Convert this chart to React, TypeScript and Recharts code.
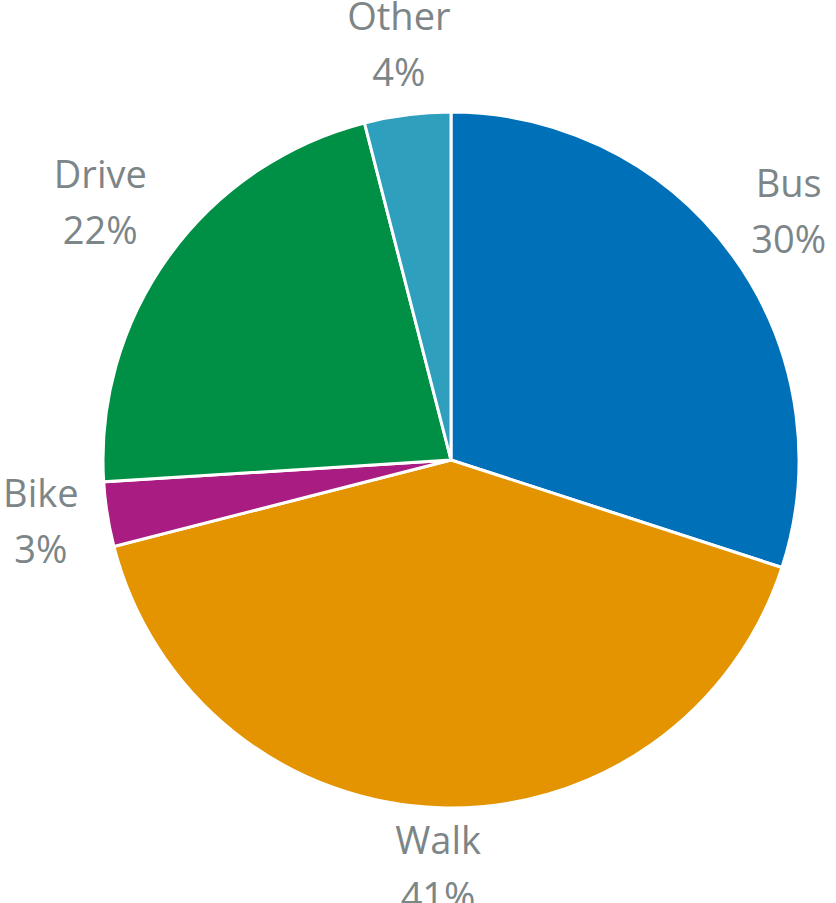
import { PieChart, Pie, Cell } from 'recharts'

const MODES = ['Bus', 'Walk', 'Bike', 'Drive', 'Other']
const SHARES = [30, 41, 3, 22, 4]
const COLORS = ['#0071b9', '#e39400', '#a91d82', '#009045', '#2e9fbc']

const RADIAN = Math.PI / 180
const FONT_SIZE = 38
const LINE_GAP = 56
const LABEL_GAP = 370 // distance from centre to the nearest edge of a label box
const LABEL_LIFT = 3

const data = MODES.map((name, i) => ({ name, value: SHARES[i] }))

function renderLabel(props: any) {
  const { cx, cy, midAngle, name, value } = props
  const pct = `${value}%`
  const dx = Math.cos(-midAngle * RADIAN)
  const dy = Math.sin(-midAngle * RADIAN)
  // push the label out by the half-size of its text box along the slice direction
  const halfW = (Math.max(name.length, pct.length) * 0.52 * FONT_SIZE) / 2
  const halfH = 40
  const r = LABEL_GAP + halfW * Math.abs(dx) + halfH * Math.abs(dy)
  const x = cx + r * dx
  const y = cy - LABEL_LIFT + r * dy
  return (
    <text
      x={x}
      y={y - 14.5}
      fill="#7c8587"
      textAnchor="middle"
      fontSize={FONT_SIZE}
      fontFamily="'Open Sans', sans-serif"
    >
      <tspan x={x}>{name}</tspan>
      <tspan x={x} dy={LINE_GAP}>{pct}</tspan>
    </text>
  )
}

export default function App() {
  return (
    <div style={{ width: 836, height: 903, background: '#fff' }}>
      <style>{`body { margin: 0; }`}</style>
      <PieChart width={836} height={903} margin={{ top: 0, right: 0, bottom: 0, left: 0 }}>
        <Pie
          data={data}
          dataKey="value"
          nameKey="name"
          cx={451}
          cy={460}
          outerRadius={348}
          startAngle={90}
          endAngle={-270}
          stroke="#ffffff"
          strokeWidth={3}
          label={renderLabel}
          labelLine={false}
          isAnimationActive={false}
        >
          {data.map((d, i) => (
            <Cell key={d.name} fill={COLORS[i]} />
          ))}
        </Pie>
      </PieChart>
    </div>
  )
}
